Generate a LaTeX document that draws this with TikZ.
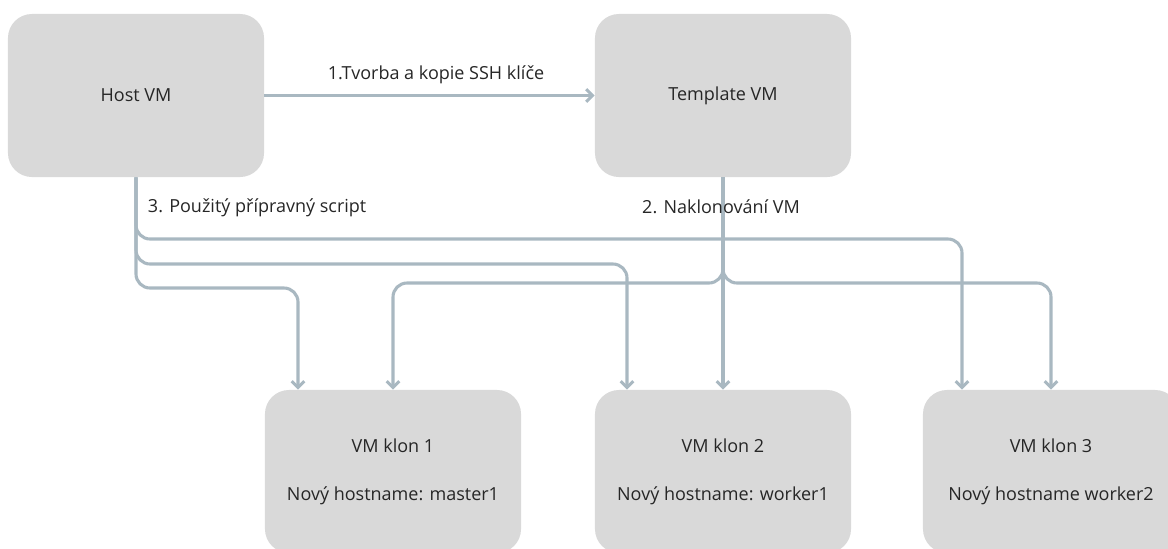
\documentclass[tikz,border=0pt]{standalone}
\usepackage{fontspec}
\setmainfont{Open Sans}
\usetikzlibrary{arrows.meta}

\definecolor{boxgray}{HTML}{D9D9D9}
\definecolor{wire}{HTML}{A9B8C1}

\begin{document}
\begin{tikzpicture}[x=0.025cm, y=-0.025cm,
    vmbox/.style={fill=boxgray, rounded corners=0.6cm, minimum width=6.4cm,
      minimum height=4.075cm, align=center, text=black!85,
      font=\fontsize{12.8}{15.5}\selectfont},
    link/.style={draw=wire, line width=2.2pt, rounded corners=0.35cm,
      -{Straight Barb[length=4.5pt, width=9pt]}},
    lbl/.style={text=black!85, font=\fontsize{12.8}{15.5}\selectfont}]
  \useasboundingbox (0,0) rectangle (1168,548);

  % the machines
  \node[vmbox] (host) at (136,95.5) {Host VM};
  \node[vmbox] (tmpl) at (723,95.5) {Template VM};
  \node[vmbox] (klon1) at (393,471.5) {VM klon 1\\[18.6pt]Nový hostname: master1};
  \node[vmbox] (klon2) at (723,471.5) {VM klon 2\\[18.6pt]Nový hostname: worker1};
  \node[vmbox] (klon3) at (1051,471.5) {VM klon 3\\[18.6pt]Nový hostname worker2};

  % step 1
  \draw[link] (host.east) -- (tmpl.west);
  \node[lbl] (krok1) at (436,75) {1.Tvorba a kopie SSH klíče};

  % step 2: cloning from the template
  \draw[link] (tmpl.south) -- (tmpl.south |- klon2.north);
  \draw[link] (tmpl.south) |- (393,283) -- (393,0 |- klon1.north);
  \draw[link] (tmpl.south) |- (1051,283) -- (1051,0 |- klon3.north);
  \node[lbl] (krok2) at (721,207) {2. Naklonování VM};

  % step 3: script run from the host
  \draw[link] (host.south) |- (962,239) -- (962,0 |- klon3.north);
  \draw[link] (host.south) |- (627,264) -- (627,0 |- klon2.north);
  \draw[link] (host.south) |- (298,288) -- (298,0 |- klon1.north);
  \node[lbl, anchor=west] (krok3) at (143,208) {3. Použitý přípravný script};
\end{tikzpicture}
\end{document}
